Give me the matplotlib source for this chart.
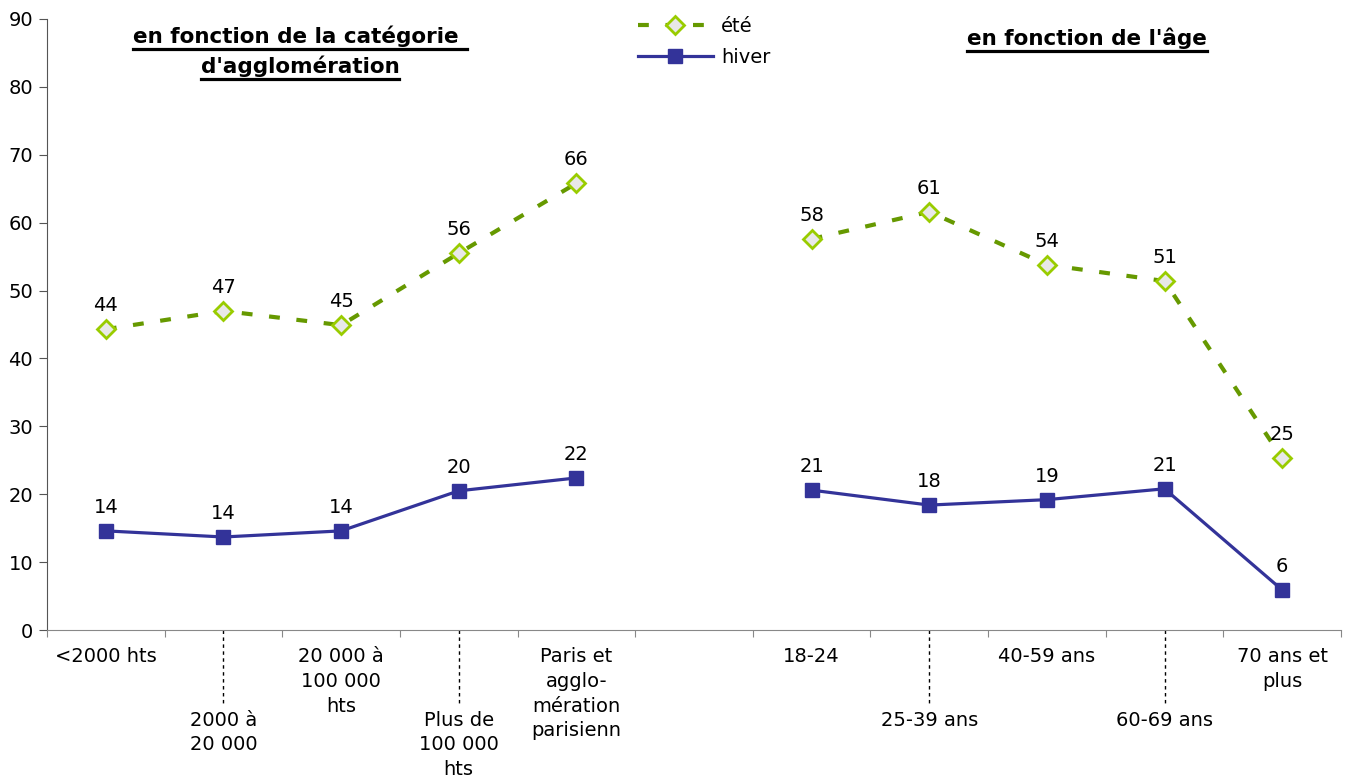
import numpy as np
import matplotlib.pyplot as plt
from matplotlib.lines import Line2D

plt.rcParams['font.family'] = ['DejaVu Sans']

# catégories (la 6e position est vide : séparation des deux groupes)
categories = ['<2000 hts', '2000 à\n20 000', '20 000 à\n100 000\nhts',
              'Plus de\n100 000\nhts', 'Paris et\nagglo-\nmération\nparisienn', '',
              '18-24', '25-39 ans', '40-59 ans', '60-69 ans', '70 ans et\nplus']
decale = [False, True, False, True, False, False, False, True, False, True, False]

ete = [44.3, 47.0, 44.9, 55.5, 65.8, np.nan, 57.6, 61.6, 53.8, 51.4, 25.3]
hiver = [14.6, 13.7, 14.6, 20.5, 22.4, np.nan, 20.6, 18.4, 19.2, 20.8, 5.9]
ete_txt = ['44', '47', '45', '56', '66', '', '58', '61', '54', '51', '25']
hiver_txt = ['14', '14', '14', '20', '22', '', '21', '18', '19', '21', '6']

x = np.arange(len(categories))

fig = plt.figure(figsize=(13.62, 7.78), dpi=100)
ax = fig.add_axes([47 / 1362, 1 - 630 / 778, (1341 - 47) / 1362, 611 / 778])

ax.plot(x, ete, color='#669900', lw=3, dashes=(2.6, 4),
        marker='D', ms=9, mfc='#E8E8E8', mec='#99CC00', mew=2, label='été')
ax.plot(x, hiver, color='#333399', lw=2.3,
        marker='s', ms=10, mfc='#333399', mec='#333399', label='hiver')

for i in range(len(x)):
    if ete_txt[i]:
        ax.annotate(ete_txt[i], (x[i], ete[i]), xytext=(0, 10), textcoords='offset points',
                    ha='center', va='bottom', fontsize=14)
    if hiver_txt[i]:
        ax.annotate(hiver_txt[i], (x[i], hiver[i]), xytext=(0, 10), textcoords='offset points',
                    ha='center', va='bottom', fontsize=14)

ax.set_xlim(-0.5, len(x) - 0.5)
ax.set_ylim(0, 90)
ax.set_yticks(range(0, 91, 10))
ax.tick_params(axis='y', labelsize=14, length=6, color='#555555', pad=4)
ax.set_xticks(np.arange(-0.5, len(x), 1.0))
ax.set_xticklabels([])
ax.tick_params(axis='x', length=5, color='#888888')
for s in ['top', 'right']:
    ax.spines[s].set_visible(False)
ax.spines['left'].set_color('#555555')
ax.spines['bottom'].set_color('#888888')

# étiquettes des catégories, en quinconce
tr = ax.get_xaxis_transform()
for i, lab in enumerate(categories):
    if not lab:
        continue
    y = -0.132 if decale[i] else -0.028
    ax.text(x[i], y, lab, transform=tr, ha='center', va='top', fontsize=14,
            linespacing=1.38, clip_on=False)
    if decale[i]:
        ax.plot([x[i], x[i]], [0, -0.124], transform=tr, color='black', lw=1,
                ls=(0, (2.5, 2.5)), clip_on=False)

# titres soulignés
titres = [(300, 43, 'en fonction de la catégorie '), (300, 73, "d'agglomération"),
          (1087, 45, "en fonction de l'âge")]
objs = []
for px, py, t in titres:
    objs.append(fig.text(px / 1362, 1 - py / 778, t, ha='center', va='baseline',
                         fontsize=15.5, fontweight='bold'))

leg = ax.legend(loc='center left', bbox_to_anchor=(620 / 1362, 1 - 42 / 778),
                bbox_transform=fig.transFigure, frameon=False, fontsize=14,
                handlelength=3.9, handletextpad=0.4, labelspacing=0.6)

fig.canvas.draw()
r = fig.canvas.get_renderer()
for t in objs:
    bb = t.get_window_extent(r).transformed(fig.transFigure.inverted())
    fig.add_artist(Line2D([bb.x0, bb.x1], [bb.y0 - 0.002, bb.y0 - 0.002],
                          transform=fig.transFigure, color='black', lw=2.3))

fig.savefig('out.png', dpi=100)
